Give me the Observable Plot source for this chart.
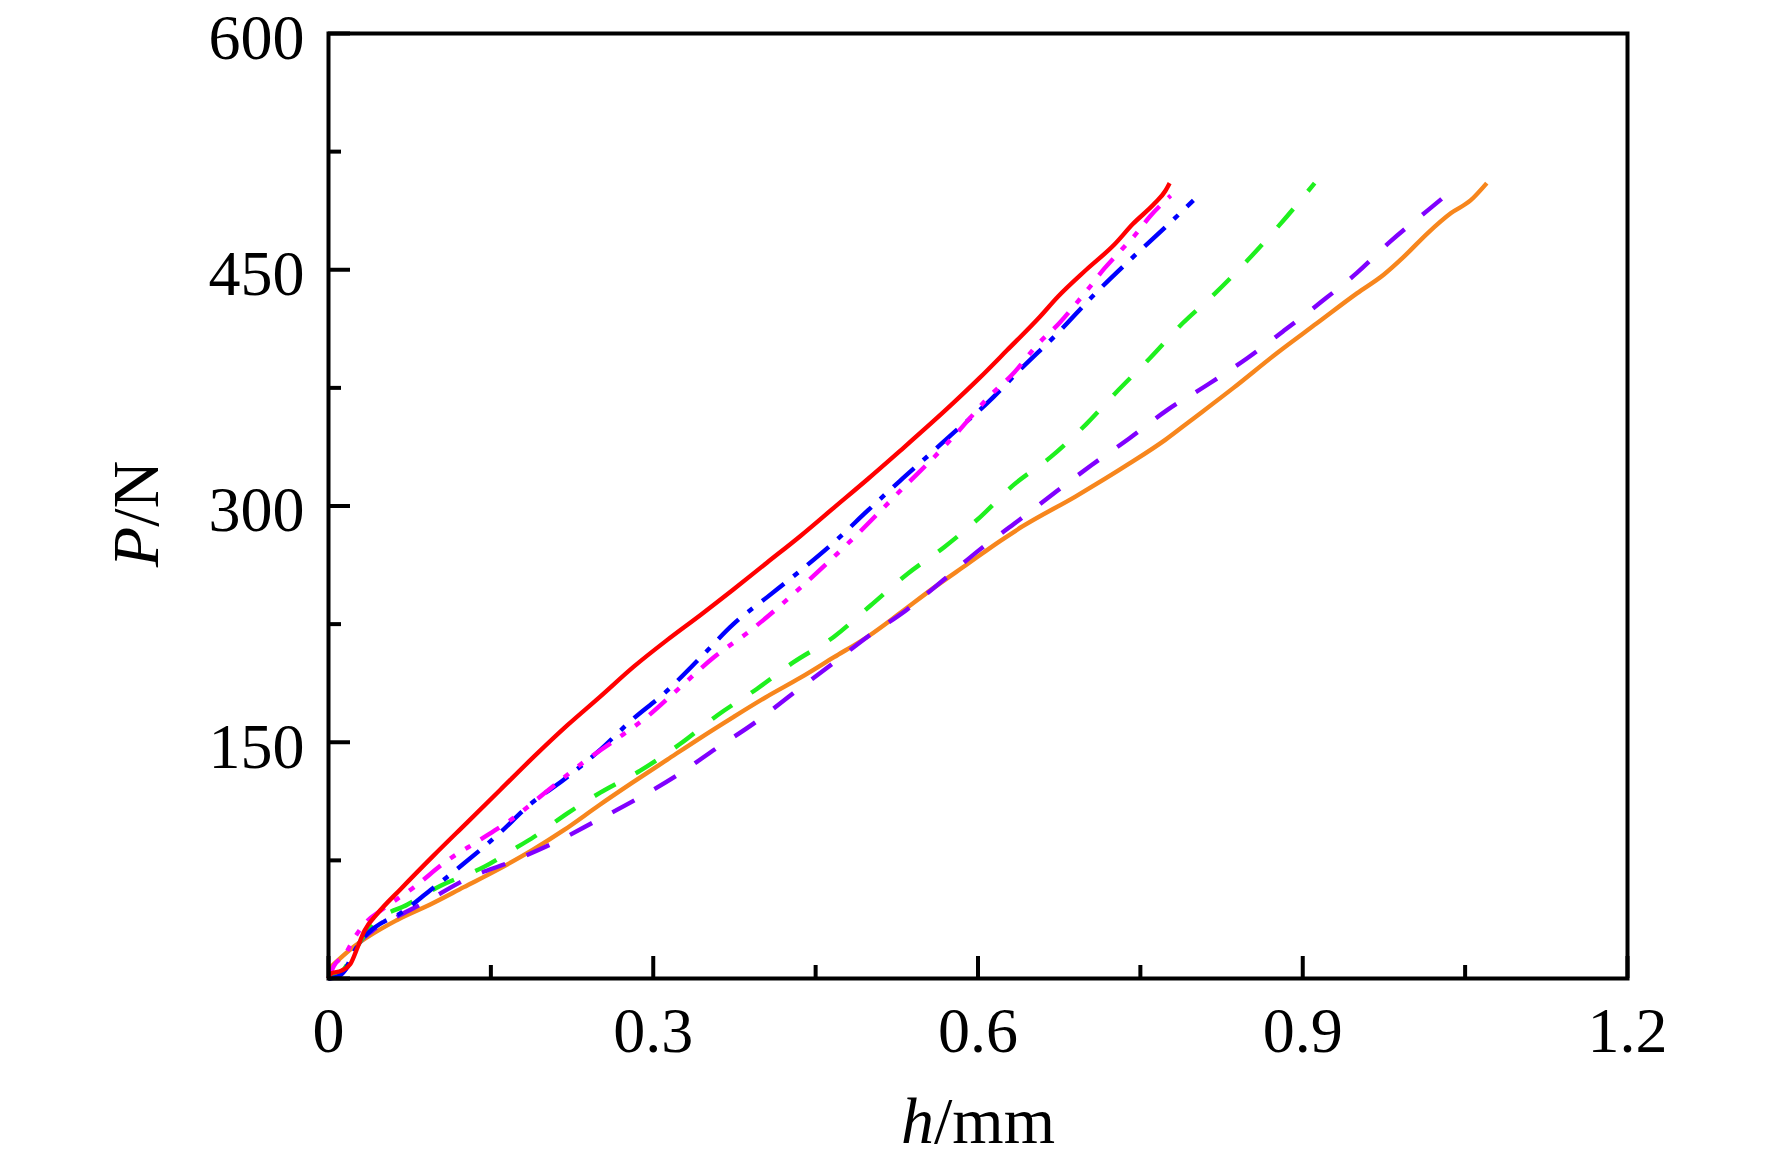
<!DOCTYPE html>
<html><head><meta charset="utf-8">
<script src="https://cdn.jsdelivr.net/npm/d3@7"></script>
<script src="https://cdn.jsdelivr.net/npm/@observablehq/plot@0.6"></script>
<style>html,body{margin:0;padding:0;background:#fff}</style>
</head><body><div id="chart"></div>
<script>
// ---- data (h in mm, P in N) ----
const redH = [0,0.002,0.012,0.020,0.027,0.033,0.045,0.067,0.097,0.128,0.159,0.190,0.221,0.251,0.282,0.313,0.344,0.374,0.405,0.436,0.467,0.498,0.528,0.575,0.601,0.627,0.657,0.674,0.700,0.726,0.743,0.763,0.773,0.777];
const redP = [0,3,5,9,20,30,41,57,78,99,120,141,161,179,198,215,231,247,264,281,299,317,335,364,381,399,420,433,450,466,479,492,500,505];

const blueH = [0,0.008,0.015,0.022,0.030,0.040,0.051,0.063,0.094,0.125,0.156,0.187,0.217,0.249,0.280,0.310,0.344,0.374,0.405,0.436,0.467,0.498,0.528,0.559,0.575,0.608,0.641,0.674,0.707,0.740,0.773,0.799];
const blueP = [0,1,5,15,24,31,36,40,56,73,91,111,126,144,164,181,204,225,242,259,277,297,316,335,345,365,388,410,434,456,477,494];

const magentaH = [0,0.005,0.015,0.025,0.035,0.048,0.079,0.110,0.140,0.171,0.202,0.233,0.264,0.294,0.325,0.356,0.388,0.439,0.487,0.533,0.558,0.580,0.611,0.631,0.657,0.675,0.690,0.702,0.717,0.733,0.745,0.759,0.778];
const magentaP = [0,8,15,27,36,43,58,75,88,102,119,136,151,166,185,204,220,250,281,313,330,346,370,383,404,416,428,438,451,463,472,484,497];

const greenH = [0,0.012,0.020,0.028,0.042,0.073,0.104,0.144,0.171,0.190,0.221,0.251,0.288,0.325,0.359,0.396,0.430,0.467,0.501,0.535,0.569,0.602,0.634,0.667,0.700,0.726,0.759,0.789,0.819,0.849,0.878,0.911];
const greenP = [0,4,12,22,35,47,59,71,82,90,105,118,132,149,167,184,201,217,237,257,274,293,314,331,352,371,394,416,435,456,478,505];

const purpleH = [0,0.010,0.020,0.028,0.040,0.060,0.088,0.130,0.168,0.208,0.247,0.285,0.322,0.358,0.395,0.429,0.464,0.498,0.534,0.568,0.601,0.634,0.672,0.705,0.740,0.775,0.812,0.849,0.882,0.916,0.950,0.981,1.016,1.044];
const purpleP = [0,2,10,22,30,38,48,64,74,86,100,114,129,146,163,181,199,217,234,253,272,289,309,326,343,361,377,394,411,429,448,468,488,504];

const orangeH = [0,0.023,0.063,0.094,0.125,0.156,0.187,0.217,0.250,0.280,0.313,0.344,0.374,0.405,0.436,0.467,0.498,0.528,0.559,0.590,0.621,0.641,0.690,0.740,0.773,0.796,0.836,0.876,0.913,0.950,0.975,0.993,1.015,1.037,1.055,1.070];
const orangeP = [6,20,37,47,58,69,81,94,110,124,139,153,166,179,191,204,217,232,248,263,278,287,306,327,342,354,375,397,416,435,447,458,473,486,494,505];

const xMajor = [0, 0.3, 0.6, 0.9, 1.2];
const xMinor = [0.15, 0.45, 0.75, 1.05];
const yMajor = [0, 150, 300, 450, 600];
const yMinor = [75, 225, 375, 525];
const yLabelTicks = [150, 300, 450, 600];

// ---- styles (drawing order: bottom to top) ----
const series = [
  {name: "orange",  h: orangeH,  p: orangeP,  color: "#f7861d", dash: null},
  {name: "purple",  h: purpleH,  p: purpleP,  color: "#8000ff", dash: "25,23"},
  {name: "green",   h: greenH,   p: greenP,   color: "#1ef01e", dash: "24,23"},
  {name: "blue",    h: blueH,    p: blueP,    color: "#0000ff", dash: "28,12,6,12"},
  {name: "magenta", h: magentaH, p: magentaP, color: "#ff00ff", dash: "22,12,6,12,6,12"},
  {name: "red",     h: redH,     p: redP,     color: "#ff0000", dash: null}
];

const font = "'Liberation Serif', 'Times New Roman', Times, serif";

const lineMarks = series.map(s => Plot.line(
  s.h.map((h, i) => ({h, p: s.p[i]})),
  {x: "h", y: "p", stroke: s.color, strokeWidth: 4.4, strokeDasharray: s.dash,
   strokeLinecap: "butt", strokeLinejoin: "round", curve: "monotone-x"}
));

const chart = Plot.plot({
  width: 1772,
  height: 1163,
  marginLeft: 328,
  marginRight: 145,
  marginTop: 33,
  marginBottom: 185,
  style: {fontFamily: font, fontSize: "64px", background: "#fff", color: "#000"},
  x: {domain: [0, 1.2]},
  y: {domain: [0, 600]},
  marks: [
    ...lineMarks,
    // inward ticks
    Plot.axisX(xMajor, {anchor: "bottom", tickSize: 22, dy: -22, tickFormat: () => "", label: null, strokeWidth: 4}),
    Plot.axisX(xMinor, {anchor: "bottom", tickSize: 13, dy: -13, tickFormat: () => "", label: null, strokeWidth: 4}),
    Plot.axisY(yMajor, {anchor: "left", tickSize: 22, dx: 22, tickFormat: () => "", label: null, strokeWidth: 4}),
    Plot.axisY(yMinor, {anchor: "left", tickSize: 13, dx: 13, tickFormat: () => "", label: null, strokeWidth: 4}),
    // tick labels
    Plot.axisX(xMajor, {anchor: "bottom", tickSize: 0, tickPadding: 28, fontSize: 64, label: null, fill: "#000", tickFormat: d => String(d)}),
    Plot.axisY(yLabelTicks, {anchor: "left", tickSize: 0, tickPadding: 24, dy: 5, fontSize: 64, label: null, fill: "#000", tickFormat: d => String(d)}),
    Plot.frame({stroke: "#000", strokeWidth: 4}),
    // axis titles
    Plot.text(["h/mm"], {frameAnchor: "bottom", textAnchor: "middle", lineAnchor: "middle", dy: 143, fontSize: 66, fill: "#000"}),
    Plot.text(["P/N"], {frameAnchor: "left", textAnchor: "middle", lineAnchor: "middle", dx: -192, dy: 8, rotate: -90, fontSize: 66, fill: "#000"})
  ]
});

document.getElementById("chart").appendChild(chart);

// italic variable symbols in axis titles
const NS = "http://www.w3.org/2000/svg";
function italicize(textEl, sym, rest) {
  while (textEl.firstChild) textEl.removeChild(textEl.firstChild);
  const t1 = document.createElementNS(NS, "tspan");
  t1.setAttribute("font-style", "italic");
  t1.textContent = sym;
  const t2 = document.createElementNS(NS, "tspan");
  t2.textContent = rest;
  textEl.appendChild(t1);
  textEl.appendChild(t2);
}
chart.querySelectorAll("text").forEach(t => {
  if (t.textContent === "h/mm") italicize(t, "h", "/mm");
  else if (t.textContent === "P/N") italicize(t, "P", "/N");
});
</script>
</body></html>
